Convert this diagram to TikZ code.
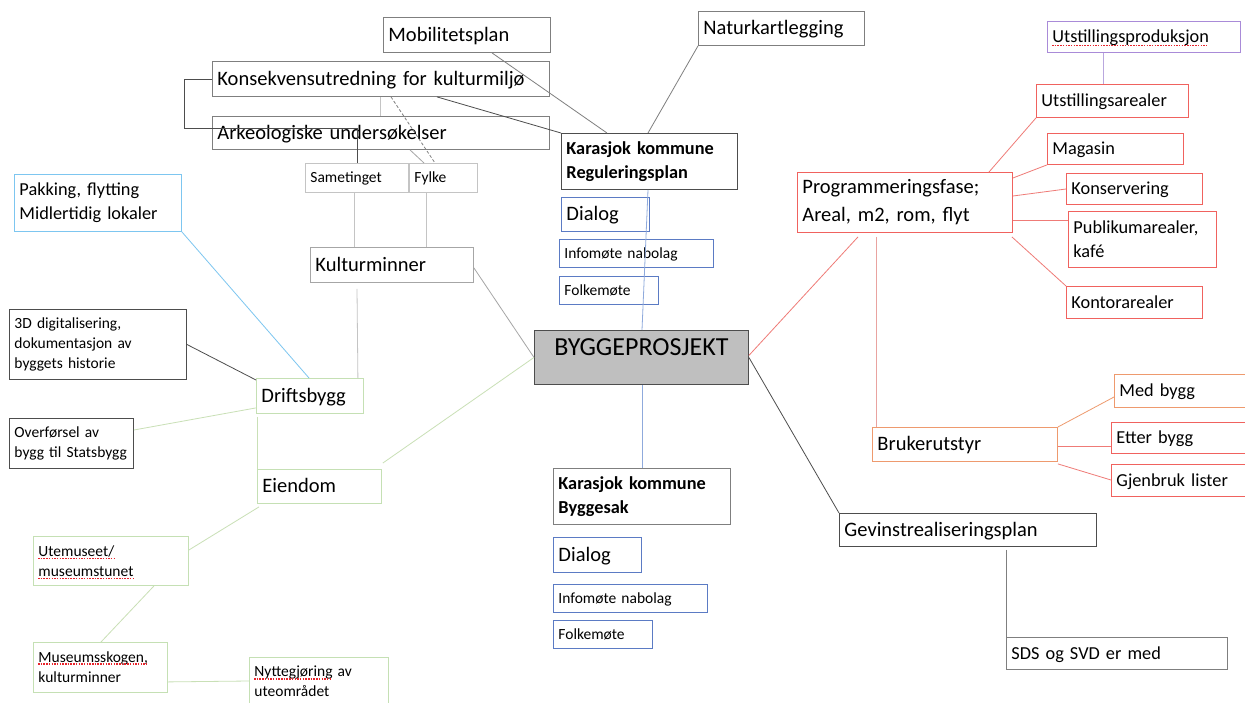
\documentclass[tikz,border=0pt]{standalone}
\usepackage{fontspec}
\setmainfont{Carlito}
\usetikzlibrary{calc}
\definecolor{dk}{HTML}{4D4D4D}
\definecolor{md}{HTML}{7F7F7F}
\definecolor{lg}{HTML}{C4C4C4}
\definecolor{lgd}{HTML}{A6A6A6}
\definecolor{bl}{HTML}{5B7BC4}
\definecolor{blln}{HTML}{8FAADC}
\definecolor{rd}{HTML}{F0625E}
\definecolor{rdln}{HTML}{EF7B77}
\definecolor{pinkln}{HTML}{E9A3A0}
\definecolor{orn}{HTML}{EE9A6E}
\definecolor{pu}{HTML}{A98BD8}
\definecolor{puln}{HTML}{B9A7DE}
\definecolor{gn}{HTML}{C5E0B4}
\definecolor{gnln}{HTML}{C9E0B6}
\definecolor{lb}{HTML}{7DC6F0}
\definecolor{fillg}{HTML}{BFBFBF}
\definecolor{spellred}{HTML}{E8242B}
\newlength\wA \newlength\wB \newlength\wC \newlength\wD \newlength\wE
\newcommand\mybox[7][]{\pgfmathsetmacro\tw{#5-10}\node[box,#1,text=black,minimum width=#5pt,minimum height=#6pt,text width=\tw pt] (#2) at (#3,#4) {#7};}
\tikzset{
  box/.style={draw, rectangle, anchor=north west, inner xsep=5pt, inner ysep=0pt, align=left, line width=0.9pt},
  fb/.style={font=\fontsize{20.5}{28}\selectfont},
  fm/.style={font=\fontsize{18.3}{24}\selectfont},
  fs/.style={font=\fontsize{15.5}{20}\selectfont},
  ob/.style={text height=15pt, text depth=2pt},
  om/.style={text height=13.5pt, text depth=1.7pt},
  os/.style={text height=11.5pt, text depth=1.5pt},
  ln/.style={line width=0.8pt},
  spl/.style={draw=spellred, line width=1.4pt, dash pattern=on 1.5pt off 1.2pt},
}
\begin{document}
\settowidth\wA{\fontsize{18.3}{24}\selectfont Utstillingsproduksjon}%
\settowidth\wB{\fontsize{15.5}{20}\selectfont Utemuseet/}%
\settowidth\wC{\fontsize{15.5}{20}\selectfont museumstunet}%
\settowidth\wD{\fontsize{15.5}{20}\selectfont Museumsskogen,}%
\settowidth\wE{\fontsize{15.5}{20}\selectfont Nyttegjøring}%
\begin{tikzpicture}[x=1pt,y=-1pt]
\useasboundingbox (0,0) rectangle (1245,702);
\fill[white] (0,0) rectangle (1245,702);
\clip (0,0) rectangle (1245,702);
% top-left
\mybox[draw=md,fb,ob]{mob}{383}{17}{167}{35}{Mobilitetsplan}
\mybox[draw=md,fb,ob]{kons}{212}{61}{337}{35}{Konsekvensutredning~for~kulturmiljø}
\mybox[draw=md,fb,ob]{ark}{212}{116}{337}{33}{Arkeologiske undersøkelser}
\mybox[draw=md,fb,ob]{nat}{698}{11}{166}{34}{Naturkartlegging}
\mybox[draw=dk,fm]{kreg}{561}{133}{176}{56}{\bfseries Karasjok kommune\\\bfseries Reguleringsplan}
\mybox[draw=bl,fb,ob]{dia1}{561}{197}{88}{34}{Dialog}
\mybox[draw=bl,fs,os]{info1}{559}{239}{154}{28}{Infomøte nabolag}
\mybox[draw=bl,fs,os]{folk1}{559}{276}{99}{28}{Folkemøte}
% centre
\node[box,draw=dk,fill=fillg,text=black,align=center,minimum width=214pt,text width=204pt,text height=25pt,text depth=29pt,font=\fontsize{26}{31}\selectfont] (bygg) at (534,330) {BYGGEPROSJEKT};
\mybox[draw=md,fm]{kbs}{553}{468}{177}{56}{\bfseries Karasjok kommune\\\bfseries Byggesak}
\mybox[draw=bl,fb,ob]{dia2}{553}{537}{88}{35}{Dialog}
\mybox[draw=bl,fs,os]{info2}{553}{584}{154}{28}{Infomøte nabolag}
\mybox[draw=bl,fs,os]{folk2}{553}{620}{99}{28}{Folkemøte}
% right
\mybox[draw=pu,fm,om]{uprod}{1047}{21}{193}{31}{Utstillingsproduksjon}
\mybox[draw=rd,fm,om]{uareal}{1036}{84}{152}{33}{Utstillingsarealer}
\mybox[draw=rd,fm,om]{mag}{1047}{133}{136}{31}{Magasin}
\mybox[draw=rd,fm,om]{kons2}{1066}{173}{136}{31}{Konservering}
\mybox[draw=rd,fm]{pub}{1068}{211}{148}{56}{Publikumarealer,\\kafé}
\mybox[draw=rd,fm,om]{kontor}{1066}{286}{136}{32}{Kontorarealer}
\mybox[draw=rd,fb]{prog}{797}{172}{215}{60}{Programmeringsfase;\\Areal, m2, rom, flyt}
\mybox[draw=orn,fb,ob]{bruk}{872}{427}{185}{34}{Brukerutstyr}
\mybox[draw=orn,fm,om]{med}{1114}{374}{150}{33}{Med bygg}
\mybox[draw=rd,fm,om]{etter}{1111}{422}{150}{31}{Etter bygg}
\mybox[draw=rd,fm,om]{gjen}{1111}{464}{150}{32}{Gjenbruk lister}
\mybox[draw=dk,fb,ob]{gev}{839}{513}{257}{33}{Gevinstrealiseringsplan}
\mybox[draw=md,fm,om]{sds}{1006}{637}{221}{32}{SDS og SVD er med}
% left
\mybox[draw=lb,fm]{pak}{14}{174}{167}{57}{Pakking, flytting\\Midlertidig lokaler}
\mybox[draw=lg,fs,os]{samet}{305}{163}{103}{29}{Sametinget}
\mybox[draw=lg,fs,os]{fylke}{409}{163}{68}{29}{Fylke}
\mybox[draw=lgd,fb,ob]{kult}{310}{247}{163}{35}{Kulturminner}
\mybox[draw=dk,fs]{d3}{9}{309}{177}{70}{3D digitalisering,\\dokumentasjon av\\byggets historie}
\mybox[draw=gn,fb,ob]{drift}{256}{378}{107}{35}{Driftsbygg}
\mybox[draw=dk,fs]{over}{9}{418}{124}{50}{Overførsel av\\bygg~til~Statsbygg}
\mybox[draw=gn,fb,ob]{eien}{257}{469}{124}{34}{Eiendom}
\mybox[draw=gn,fs]{ute}{33}{536}{155}{49}{Utemuseet/\\museumstunet}
\mybox[draw=gn,fs]{mskog}{33}{642}{134}{50}{Museumsskogen,\\kulturminner}
\mybox[draw=gn,fs]{nytt}{249}{657}{139}{72}{Nyttegjøring av\\uteområdet\rule[-25pt]{0pt}{0pt}}
% spelling marks under words
\draw[spl] ($(uprod.north west)+(5,24.5)$) -- ++(\wA,0);
\draw[spl] ($(ute.north west)+(5,22.5)$) -- ++(\wB,0);
\draw[spl] ($(ute.north west)+(5,42.5)$) -- ++(\wC,0);
\draw[spl] ($(mskog.north west)+(5,22)$) -- ++(\wD,0);
\draw[spl] ($(nytt.north west)+(5,22)$) -- ++(\wE,0);
% connectors top-left
\draw[ln,md] ($(mob.south west)+(109,0)$) -- ($(kreg.north west)+(46,0)$);
\draw[ln,dk] ($(kons.south west)+(225,0)$) -- (kreg.north west);
\draw[ln,md] (nat.south west) -- ($(kreg.north west)+(87,0)$);
\draw[ln,dk] (kons.west) -- ++(-28,0) |- ($(ark.north west)+(145,12)$) -- ($(samet.north west)+(52,0)$);
\draw[ln,lg] ($(kons.south west)+(168,0)$) -- ($(ark.north west)+(168,0)$);
\draw[ln,md,dash pattern=on 3pt off 2pt] ($(kons.south west)+(179,0)$) -- ($(fylke.north west)+(26,0)$);
\draw[ln,lgd] ($(ark.south west)+(198,0)$) -- ($(fylke.north west)+(15,0)$);
\draw[ln,lg] ($(samet.south west)+(49,0)$) -- ($(kult.north west)+(44,0)$);
\draw[ln,lg] ($(fylke.south west)+(17,0)$) -- ($(kult.north west)+(116,0)$);
\draw[ln,lgd] ($(kult.south east)+(0,-15)$) -- (bygg.west);
\draw[ln,lg] ($(kult.south west)+(47,6)$) -- ($(drift.north east)+(-6,0)$);
% connectors left
\draw[ln,lb] (pak.south east) -- ($(drift.north west)+(53,0)$);
\draw[ln,dk] (d3.east) -- ($(drift.north west)+(0,2)$);
\draw[ln,gnln] ($(over.north east)+(0,12)$) -- ($(drift.south west)+(0,-6)$);
\draw[ln,gnln] ($(drift.south west)+(1,3)$) -- (eien.north west);
\draw[ln,gnln] ($(eien.north east)+(1,-6)$) -- (bygg.west);
\draw[ln,gnln] ($(eien.south west)+(2,3)$) -- ($(ute.north east)+(0,14)$);
\draw[ln,gnln] ($(ute.south west)+(121,0)$) -- ($(mskog.north west)+(68,0)$);
\draw[ln,gnln] ($(mskog.south east)+(0,-11)$) -- ($(nytt.north west)+(0,24)$);
% connectors centre
\draw[ln,blln] ($(kreg.south west)+(87,0)$) -- ($(bygg.north west)+(108,0)$);
\draw[ln,blln] ($(bygg.south west)+(108,0)$) -- ($(kbs.north west)+(89,0)$);
% connectors right
\draw[ln,rdln] ($(bygg.east)+(0,-2)$) -- ($(prog.south west)+(61,4)$);
\draw[ln,pinkln] ($(prog.south west)+(79,4)$) -- ($(bruk.north west)+(4,0)$);
\draw[ln,rdln] ($(prog.north west)+(192,0)$) -- (uareal.south west);
\draw[ln,rdln] ($(prog.north east)+(0,6)$) -- (mag.south west);
\draw[ln,rdln] ($(prog.north east)+(0,24)$) -- ($(kons2.north west)+(0,16)$);
\draw[ln,rdln] ($(prog.north east)+(0,48)$) -- ($(pub.north west)+(0,9)$);
\draw[ln,rdln] ($(prog.south east)+(-1,4)$) -- (kontor.north west);
\draw[ln,puln] ($(uprod.south west)+(56,0)$) -- ($(uareal.north west)+(67,0)$);
\draw[ln,orn] (bruk.north east) -- ($(med.north west)+(0,23)$);
\draw[ln,rdln] ($(bruk.north east)+(0,19)$) -- ($(etter.north west)+(0,24)$);
\draw[ln,rdln] ($(bruk.south east)+(0,2)$) -- ($(gjen.north west)+(0,16)$);
\draw[ln,dk] (bygg.east) -- (gev.north west);
\draw[ln,md] ($(gev.south west)+(167,3)$) -- (sds.north west);
\end{tikzpicture}
\end{document}
